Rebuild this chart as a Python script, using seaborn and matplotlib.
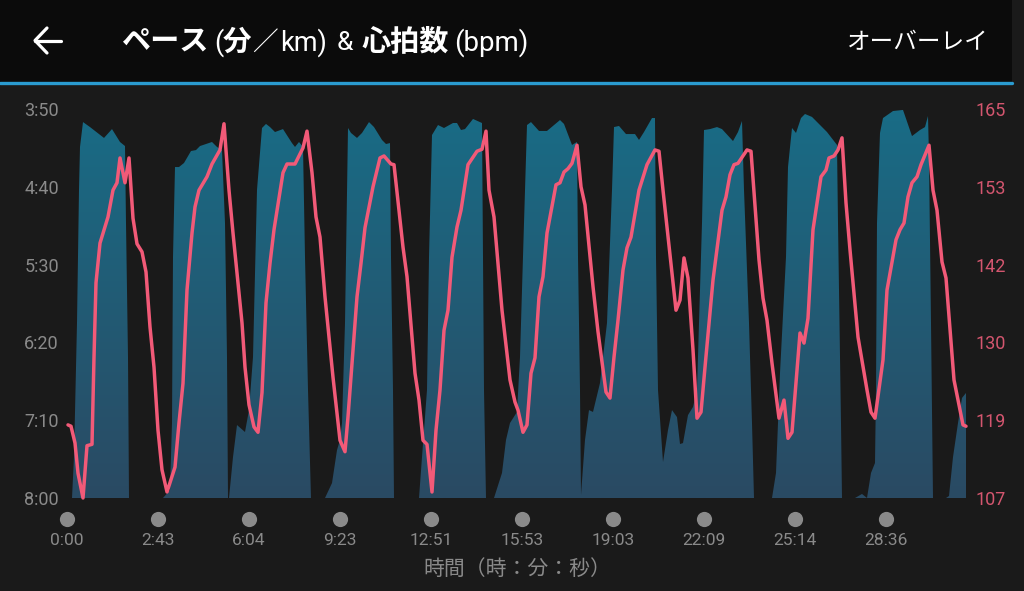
import numpy as np
import matplotlib
matplotlib.use("Agg")
import matplotlib.pyplot as plt
import seaborn as sns
from matplotlib.colors import LinearSegmentedColormap
from matplotlib.lines import Line2D
from matplotlib.patches import Rectangle

# x is the sample position of the watch export, one tick every 91 samples
tick_samples = [0, 91, 182, 273, 364, 455, 546, 637, 728, 819]
time_labels = ["0:00", "2:43", "6:04", "9:23", "12:51", "15:53", "19:03", "22:09", "25:14", "28:36"]
pace_tick_labels = ["3:50", "4:40", "5:30", "6:20", "7:10", "8:00"]
pace_ticks = [230, 280, 330, 380, 430, 480]  # seconds per km
hr_tick_labels = ["165", "153", "142", "130", "119", "107"]

hr_x = [1, 4, 8, 11, 16, 20, 25, 27, 29, 33, 41, 46, 50, 53, 58, 62, 66, 70, 75, 79, 83, 87, 91, 95, 100,
        108, 112, 116, 120, 125, 128, 132, 140, 145, 153, 157, 162, 166, 175, 178, 182, 187, 191, 195, 199,
        203, 207, 216, 220, 228, 236, 240, 245, 249, 253, 258, 266, 273, 278, 281, 290, 294, 298, 306, 313,
        317, 324, 327, 336, 340, 348, 352, 356, 360, 365, 369, 373, 377, 381, 385, 390, 394, 401, 406, 410,
        415, 419, 422, 427, 435, 443, 448, 451, 456, 460, 464, 468, 472, 476, 480, 489, 493, 497, 501, 505,
        510, 514, 518, 526, 531, 539, 543, 547, 551, 556, 560, 564, 572, 580, 588, 592, 596, 609, 613, 617,
        621, 626, 630, 634, 638, 646, 655, 659, 663, 667, 671, 680, 684, 692, 696, 700, 705, 712, 717, 721,
        725, 733, 737, 741, 746, 754, 759, 762, 767, 771, 775, 779, 783, 791, 800, 804, 808, 816, 820, 829,
        833, 837, 841, 845, 850, 854, 862, 866, 870, 875, 879, 887, 891, 896, 899]
hr_bpm = [117.9, 117.7, 115.2, 110.7, 107, 114.8, 115, 128, 139.1, 145, 148.9, 152.9, 154, 157.7, 154, 157.7,
          148.7, 144.9, 143.7, 140.7, 132.5, 126.5, 117.1, 111.2, 107.9,
          111.6, 118.2, 124.1, 138, 146.5, 150.4, 152.9, 154.9, 156.8, 158.9, 162.8, 152.9, 146.5, 133.1,
          126.5, 120.9, 117.6, 116.8, 122.7, 136.1,
          142, 147, 155.5, 156.8, 156.8, 159.2, 161.7, 155.5, 148.9, 145.9, 137, 125, 115.6, 113.9, 119.1,
          137, 142, 147.3, 153.4, 157.7,
          158, 156.8, 156.7, 144.4, 140, 125.6, 121.6, 115.6, 115, 107.9, 117.1, 123.1, 132, 135, 142.9,
          147.4, 149.9, 156.7, 157.8, 158.7,
          159, 161.7, 152.9, 148.9, 135, 124.6, 121.3, 120.1, 116.8, 117.9, 125.6, 127.9, 137, 140, 146.5,
          153.7, 154, 155.6, 156.1, 156.9,
          159.6, 153.4, 150.7, 138.5, 131.8, 122.8, 121.9, 128, 133.5, 141, 144.3, 145.9, 152.9, 156.7,
          158.9, 158.7, 152.9, 135, 136.5, 142.8,
          139.8, 129.1, 118.9, 119.8, 126.5, 139.5, 149.9, 151.9, 155.2, 156.7, 156.9, 158.9, 158.7, 142.5,
          136.8, 133.5, 127.1, 118.9, 121.6, 115.9,
          116.8, 131.6, 130.1, 133.8, 147, 154.9, 155.9, 157.7, 158, 158.9, 160.7, 151, 144, 131, 123.1,
          119.8, 118.9, 127.6, 138, 145.5,
          147, 148, 151.9, 154, 154.9, 156.7, 159.6, 152.9, 149.9, 142.2, 139.8, 124.6, 121.6, 117.9, 117.7]

pace_x = [5, 7, 10, 12, 13, 16, 23, 37, 45, 53, 58, 59, 61, 62,
          96, 103, 105, 106, 108, 112, 117, 124, 129, 133, 145, 150, 155, 158, 160, 161,
          162, 166, 170, 178, 182, 186, 190, 195, 199, 203, 208, 216, 225, 228, 232, 236, 238, 241, 244,
          258, 265, 270, 273, 275, 278, 281, 284, 290, 295, 302, 307, 315, 319, 323, 324, 326, 327,
          352, 355, 360, 362, 365, 371, 377, 386, 390, 394, 398, 406, 415, 416, 417, 419,
          427, 435, 439, 443, 450, 453, 457, 460, 464, 472, 480, 493, 497, 505, 510, 511, 513, 514,
          518, 522, 526, 533, 540, 545, 547, 552, 559, 568, 572, 577, 585, 588, 589, 591, 596, 601, 605, 610,
          613, 616, 621, 626, 630, 635, 637, 643, 650, 655, 666, 671, 675, 677, 682, 685, 687,
          705, 709, 713, 719, 721, 725, 729, 734, 738, 745, 760, 770, 771, 774, 775,
          788, 795, 800, 804, 808, 809, 810, 813, 816, 826, 836, 845, 853, 858, 861, 862, 864, 866,
          879, 882, 886, 891, 895, 899]
pace_sec = [480, 453.7, 367.5, 282, 254.4, 238.4, 241.6, 248.6, 242.9, 251.2, 253.8, 303.3, 389.4, 480,
            480, 474.9, 431.8, 325.1, 267.3, 267.3, 264.7, 257, 256.4, 253.8, 251.2, 254.4, 256.4, 303.3, 389.4, 480,
            480, 453.7, 433.1, 437.6, 423.5, 389.4, 282, 242.2, 239.6, 241.6, 244.8, 242.9, 251.9, 254.4, 251.2,
            254.4, 325.1, 410.6, 480,
            480, 470.4, 449.2, 442.7, 431.8, 367.5, 242.2, 245.4, 248.6, 245.4, 238.4, 241.6, 249.9, 252.5, 251.9,
            325.1, 410.6, 480,
            480, 453.7, 410.6, 325.1, 246.7, 240.3, 242.2, 239, 239, 243.5, 242.9, 236.4, 239, 325.1, 410.6, 480,
            480, 463.9, 442.7, 431.8, 424.7, 389.4, 303.3, 240.3, 238.4, 244.1, 244.1, 237.1, 239.6, 253.1, 251.2,
            325.1, 410.6, 478,
            442.7, 423.5, 424.7, 406.1, 367.5, 282, 241.6, 240.9, 246.1, 246.1, 249.9, 244.8, 235.8, 235.8, 325.1,
            410.6, 456.9, 436.3, 423.5, 428,
            445.3, 444.7, 426.7, 421.5, 410.6, 303.3, 243.5, 242.9, 241.6, 242.9, 250.6, 244.8, 237.7, 282, 367.5,
            431.8, 480,
            480, 463.9, 399.7, 325.1, 267.3, 242.2, 245.4, 235.8, 233.2, 235.1, 244.8, 253.1, 303.3, 431.8, 480,
            480, 477.4, 480, 463.9, 457.5, 410.6, 303.3, 245.4, 235.8, 231.3, 230.6, 247.4, 243.5, 241.6, 234.5,
            260.8, 367.5, 480,
            480, 478.7, 453.7, 431.8, 415.7, 412.5]

BG = "#1a1a1a"
HEADER = "#0b0b0b"
GREY = "#8a8a8a"
PINK = "#f25a78"

sns.set_theme(style="dark", rc={"axes.facecolor": BG, "figure.facecolor": BG, "axes.grid": False})
plt.rcParams["font.family"] = ["Roboto", "Noto Sans CJK JP"]

W, H = 1024, 591
fig = plt.figure(figsize=(W / 100, H / 100), dpi=100)
ax = fig.add_axes([67 / W, (H - 498) / H, 900 / W, 389 / H])
ax.set_facecolor(BG)

# pace area, gradient image clipped to the filled shape
area = ax.fill_between(pace_x, pace_sec, 480, color="none", linewidth=0)
cmap = LinearSegmentedColormap.from_list("pace", ["#196c86", "#2a4a63"])
grad = ax.imshow(np.linspace(0, 1, 256).reshape(-1, 1), cmap=cmap, aspect="auto",
                 extent=[0, 900, 480, 230], zorder=1)
grad.set_clip_path(area.get_paths()[0], transform=ax.transData)

ax.set_xlim(0, 900)
ax.set_ylim(480, 230)
ax.set_xticks(tick_samples, time_labels)
ax.set_yticks(pace_ticks, pace_tick_labels)
ax.tick_params(axis="x", length=0, pad=25, labelsize=12.5, labelcolor=GREY)
ax.tick_params(axis="y", length=0, pad=5.8, labelsize=13, labelcolor=GREY)
ax.set_xlabel("時間（時：分：秒）", color=GREY, fontsize=15, labelpad=8)
sns.despine(ax=ax, left=True, bottom=True, right=True, top=True)

# grey scrubber dots under the ticks
ax.scatter(tick_samples, [-0.054] * len(tick_samples), s=120, color="#8a8a8a", linewidths=0,
           transform=ax.get_xaxis_transform(), clip_on=False, zorder=3)

ax2 = ax.twinx()
sns.lineplot(x=hr_x, y=hr_bpm, ax=ax2, color=PINK, linewidth=2.5, zorder=4, estimator=None, sort=False)
ax2.set_ylim(107, 165)
ax2.set_yticks(np.linspace(165, 107, 6), hr_tick_labels)
ax2.tick_params(axis="y", length=0, pad=5.8, labelsize=13, labelcolor="#d4566f")
ax2.grid(False)
sns.despine(ax=ax2, left=True, bottom=True, right=True, top=True)
for line in ax2.get_lines():
    line.set_clip_on(False)

# header bar
fig.add_artist(Rectangle((0, (H - 82) / H), 1012 / W, 82 / H, transform=fig.transFigure, color=HEADER, linewidth=0))
fig.add_artist(Line2D([0, 1012 / W], [(H - 82.5) / H] * 2, color="#2a9bd0", linewidth=2.4))

# back arrow icon
fig.add_artist(Line2D([35 / W, 61 / W], [(H - 40.5) / H] * 2, color="white", linewidth=2.3))
fig.add_artist(Line2D([47 / W, 35 / W, 47 / W], [(H - 28) / H, (H - 40.5) / H, (H - 53) / H],
                      color="white", linewidth=2.3))


def head(x, text, size=20, weight="normal", ha="left"):
    fig.text(x / W, (H - 43) / H, text, color="white", fontsize=size, fontweight=weight, ha=ha, va="center")


head(121, "ペース", size=21, weight="bold")
head(214, "(", size=19.5)
head(223, "分", size=20.5, weight="bold")
head(252, "／", size=18.5)
head(280, "km)", size=19.5)
head(337, "&", size=19)
head(361, "心拍数", size=21, weight="bold")
head(454, "(bpm)", size=20)
head(989, "オーバーレイ", size=17, ha="right")

fig.savefig("out.png", dpi=100, facecolor=BG)
